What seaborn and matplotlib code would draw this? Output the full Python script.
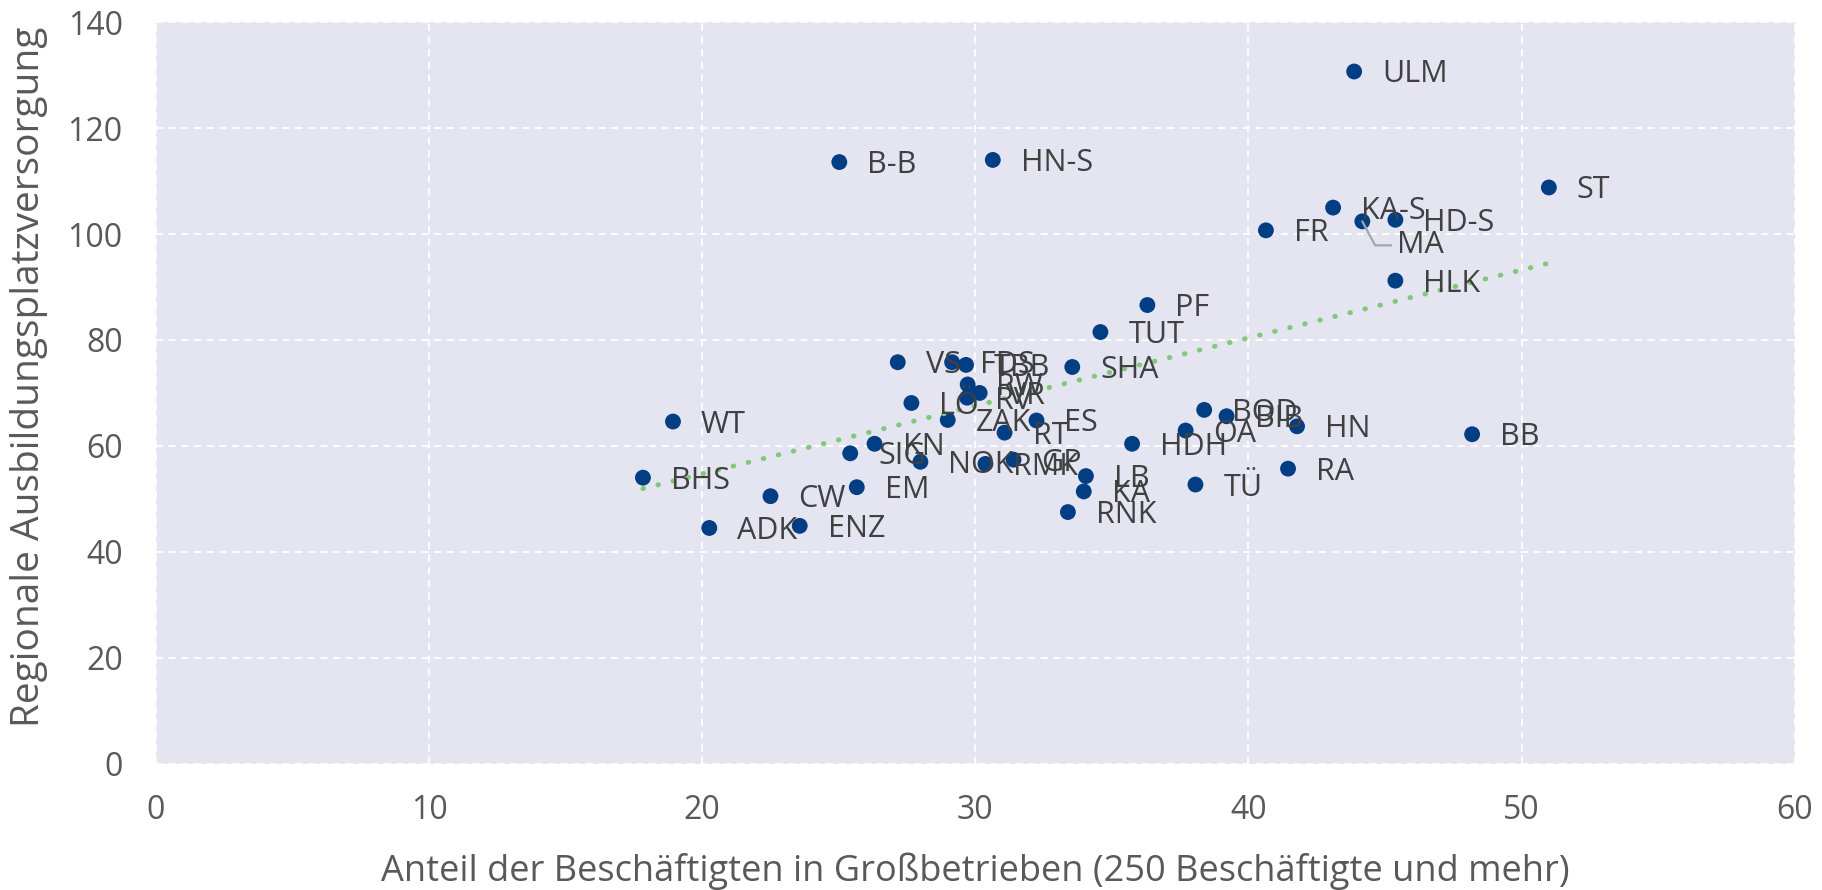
import numpy as np
import pandas as pd
import matplotlib
matplotlib.use("Agg")
import matplotlib.pyplot as plt
import seaborn as sns

kreise = ["ULM", "B-B", "HN-S", "ST", "KA-S", "MA", "HD-S", "HLK", "FR", "PF",
          "TUT", "SHA", "VS", "FDS", "TBB", "RW", "RV", "VR", "LÖ", "ZAK",
          "ES", "RT", "WT", "BHS", "KN", "SIG", "NOK", "RMK", "GP", "LB",
          "KA", "RNK", "TÜ", "HDH", "OA", "BOD", "BIB", "HN", "RA", "BB",
          "CW", "ADK", "ENZ", "EM"]
anteil_gross = [43.87, 25.02, 30.64, 51.0, 43.1, 44.17, 45.38, 45.38, 40.64, 36.3,
                34.58, 33.55, 27.16, 29.15, 29.66, 29.72, 29.70, 30.16, 27.66, 28.99,
                32.24, 31.07, 18.93, 17.83, 26.31, 25.42, 27.99, 30.37, 31.4, 34.05,
                33.97, 33.39, 38.06, 35.74, 37.7, 38.38, 39.2, 41.78, 41.45, 48.19,
                22.5, 20.26, 23.57, 25.66]
versorgung = [130.7, 113.6, 114.0, 108.8, 105.0, 102.4, 102.7, 91.2, 100.7, 86.6,
              81.5, 74.9, 75.8, 75.8, 75.3, 71.6, 69.1, 70.0, 68.1, 64.9,
              64.8, 62.5, 64.6, 54.0, 60.4, 58.6, 57.0, 56.6, 57.4, 54.3,
              51.4, 47.5, 52.7, 60.4, 62.9, 66.8, 65.6, 63.7, 55.7, 62.2,
              50.5, 44.5, 44.9, 52.2]
x_ticks = [0, 10, 20, 30, 40, 50, 60]
y_ticks = [0, 20, 40, 60, 80, 100, 120, 140]

sns.set_theme(style="darkgrid", rc={
    "axes.facecolor": "#E4E5F1",
    "grid.color": "white",
    "grid.linestyle": (0, (4, 3)),
    "grid.linewidth": 1.3,
})
plt.rcParams["font.family"] = ["Open Sans", "DejaVu Sans"]

df = pd.DataFrame({"kreis": kreise, "anteil": anteil_gross, "versorgung": versorgung})

fig, ax = plt.subplots(figsize=(18.22, 8.90), dpi=100)
fig.subplots_adjust(left=0.0856, right=0.985, top=0.975, bottom=0.142)
ax.set_axisbelow(True)

sns.scatterplot(data=df, x="anteil", y="versorgung", s=130, color="#023E84",
                edgecolor="none", ax=ax, zorder=3)
sns.regplot(data=df, x="anteil", y="versorgung", scatter=False, ci=None, ax=ax,
            line_kws=dict(color="#82C87A", lw=3.6, linestyle=(0, (0.1, 3.0)),
                          dash_capstyle="round", zorder=4))

for lab, xv, yv in zip(df["kreis"], df["anteil"], df["versorgung"]):
    if lab == "MA":
        ax.annotate(lab, (xv, yv), xytext=(35, -24), textcoords="offset pixels",
                    ha="left", va="center", fontsize=22, color="#404040", zorder=5,
                    arrowprops=dict(arrowstyle="-", color="#A6A6A6", lw=1.6,
                                    connectionstyle="angle,angleA=0,angleB=-62,rad=0",
                                    shrinkA=2, shrinkB=0))
    else:
        ax.annotate(lab, (xv, yv), xytext=(28, -3), textcoords="offset pixels",
                    ha="left", va="center", fontsize=22, color="#404040", zorder=5)

ax.set_xlim(0, 60)
ax.set_ylim(0, 140)
ax.set_xticks(x_ticks)
ax.set_yticks(y_ticks)
ax.tick_params(axis="both", labelsize=23, labelcolor="#595959", length=0)
ax.tick_params(axis="x", pad=22)
ax.tick_params(axis="y", pad=24)
ax.set_xlabel("Anteil der Beschäftigten in Großbetrieben (250 Beschäftigte und mehr)",
              fontsize=26, color="#595959")
ax.set_ylabel("Regionale Ausbildungsplatzversorgung", fontsize=28, color="#595959")
ax.xaxis.set_label_coords(0.5, -0.12)
ax.yaxis.set_label_coords(-0.066, 0.522)
sns.despine(ax=ax, left=True, bottom=True)

fig.savefig("out.png", dpi=100)
